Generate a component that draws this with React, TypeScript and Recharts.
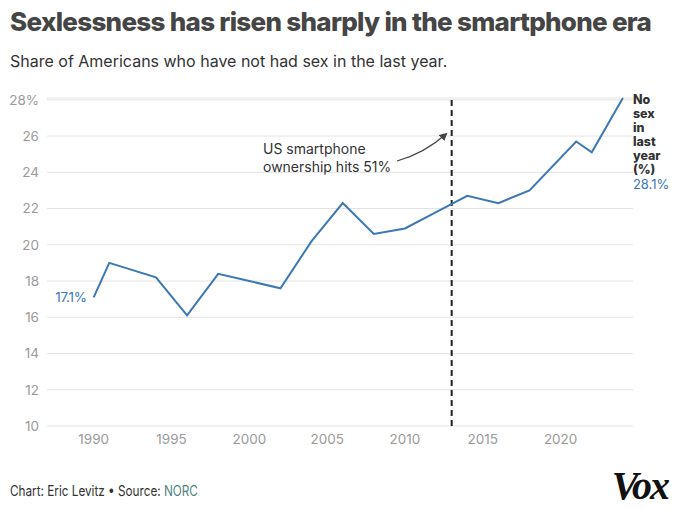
import { LineChart, Line, XAxis, YAxis, CartesianGrid, ReferenceLine, LabelList } from "recharts";

document.body.style.margin = "0";

const years = [1990, 1991, 1994, 1996, 1998, 2000, 2002, 2004, 2006, 2008, 2010, 2012, 2014, 2016, 2018, 2021, 2022, 2024];
const noSexShare = [17.1, 19.0, 18.2, 16.1, 18.4, 18.0, 17.6, 20.2, 22.3, 20.6, 20.9, 21.8, 22.7, 22.3, 23.0, 25.7, 25.1, 28.1];
const yTicks = [10, 12, 14, 16, 18, 20, 22, 24, 26, 28];
const xTicks = [1990, 1995, 2000, 2005, 2010, 2015, 2020];
const smartphoneYear = 2013;

const data = years.map((year, i) => ({ year, value: noSexShare[i] }));

const BLUE = "#3b78b4";
const FONT = "Inter, 'Noto Sans', sans-serif";

const EndLabels = (props: any) => {
  const { x, y, index, value } = props;
  if (index === 0) {
    return (
      <text x={x - 7} y={y} dy={5} textAnchor="end" fill={BLUE} fontSize={13.5} fontFamily={FONT} letterSpacing={-0.3}>
        {value}%
      </text>
    );
  }
  if (index === data.length - 1) {
    const lines = ["No", "sex", "in", "last", "year", "(%)"];
    return (
      <g fontFamily={FONT}>
        {lines.map((l, i) => (
          <text key={l} x={x + 10} y={y + 6 + i * 14} fill="#333" fontSize={12.5} fontWeight={800}>
            {l}
          </text>
        ))}
        <text x={x + 10} y={y + 91} fill={BLUE} fontSize={13}>
          {value}%
        </text>
      </g>
    );
  }
  return null;
};

export default function App() {
  return (
    <div style={{ position: "relative", width: 680, height: 509, background: "#fff", fontFamily: FONT }}>
      <div style={{ position: "absolute", left: 10, top: 6, fontSize: 26, fontWeight: 800, color: "#454545", letterSpacing: -0.7, whiteSpace: "nowrap" }}>
        Sexlessness has risen sharply in the smartphone era
      </div>
      <div style={{ position: "absolute", left: 10, top: 51, fontSize: 16, color: "#333", whiteSpace: "nowrap" }}>
        Share of Americans who have not had sex in the last year.
      </div>
      <div style={{ position: "absolute", left: 0, top: 0 }}>
        <LineChart width={680} height={509} data={data} margin={{ top: 98, right: 47, left: 0, bottom: 53 }}>
          <CartesianGrid vertical={false} stroke="#e3e3e3" strokeWidth={1} />
          <XAxis
            dataKey="year"
            type="number"
            domain={[1987, 2024.65]}
            ticks={xTicks}
            axisLine={false}
            tickLine={false}
            tickSize={0}
            tickMargin={8}
            height={30}
            tick={{ fill: "#9a9a9a", fontSize: 13.5, fontFamily: FONT }}
          />
          <YAxis
            domain={[10, 28]}
            ticks={yTicks}
            axisLine={false}
            tickLine={false}
            tickSize={0}
            tickMargin={8}
            width={47}
            tickFormatter={(v: number) => (v === 28 ? "28%" : String(v))}
            tick={{ fill: "#9a9a9a", fontSize: 13.5, fontFamily: FONT }}
          />
          <ReferenceLine x={smartphoneYear} stroke="#222" strokeWidth={2} strokeDasharray="6 4" />
          <Line dataKey="value" stroke={BLUE} strokeWidth={2} dot={false} isAnimationActive={false}>
            <LabelList dataKey="value" content={EndLabels} />
          </Line>
        </LineChart>
      </div>
      <svg width={680} height={509} style={{ position: "absolute", left: 0, top: 0, pointerEvents: "none" }}>
        <defs>
          <marker id="ah" markerWidth="8" markerHeight="8" refX="6" refY="4" orient="auto" markerUnits="userSpaceOnUse">
            <path d="M0,0 L8,4 L0,8 Z" fill="#444" />
          </marker>
        </defs>
        <text x={263} y={154} fill="#333" fontSize={14} fontFamily={FONT}>US smartphone</text>
        <text x={263} y={172} fill="#333" fontSize={14} fontFamily={FONT}>ownership hits 51%</text>
        <path d="M397,161 Q425,153 446,134" fill="none" stroke="#444" strokeWidth={1.3} markerEnd="url(#ah)" />
        <g transform="translate(10,496) scale(0.81,1)">
          <text x={0} y={0} fill="#333" fontSize={14.5} fontFamily={FONT}>
            Chart: Eric Levitz • Source: <tspan fill="#4f7f80">NORC</tspan>
          </text>
        </g>
        <text x={668} y={499} textAnchor="end" fill="#111" fontSize={40} fontWeight={700} fontStyle="italic" fontFamily="'Liberation Serif', 'DejaVu Serif', serif" letterSpacing={-2}>
          Vox
        </text>
      </svg>
    </div>
  );
}
